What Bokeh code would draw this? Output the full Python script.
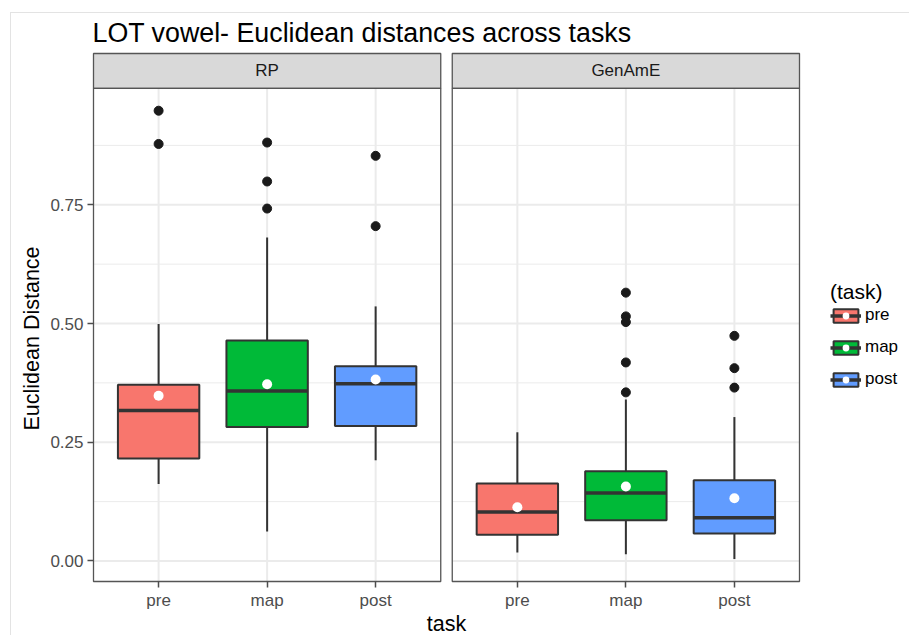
from bokeh.plotting import figure
from bokeh.models import (Range1d, FixedTicker, NumeralTickFormatter, Title,
                          Legend, LegendItem, ColumnDataSource)
from bokeh.core.properties import value
from bokeh.embed import file_html
from bokeh.resources import INLINE

# ---------------- data ----------------
panels = ["RP", "GenAmE"]
tasks = ["pre", "map", "post"]
task_colors = ["#F8766D", "#00BA38", "#619CFF"]

rp_lower = [0.162, 0.062, 0.212]
rp_q1 = [0.216, 0.282, 0.284]
rp_median = [0.317, 0.358, 0.373]
rp_q3 = [0.371, 0.464, 0.410]
rp_upper = [0.499, 0.681, 0.536]
rp_mean = [0.348, 0.372, 0.382]
rp_outliers = [[0.948, 0.878], [0.881, 0.799, 0.742], [0.853, 0.705]]

gen_lower = [0.018, 0.014, 0.004]
gen_q1 = [0.055, 0.086, 0.058]
gen_median = [0.103, 0.143, 0.091]
gen_q3 = [0.163, 0.189, 0.170]
gen_upper = [0.271, 0.340, 0.303]
gen_mean = [0.113, 0.157, 0.132]
gen_outliers = [[], [0.565, 0.515, 0.503, 0.418, 0.355], [0.474, 0.406, 0.365]]

y_major = [0.0, 0.25, 0.50, 0.75]
y_minor = [0.125, 0.375, 0.625, 0.875]

stats = {
    "RP": dict(lower=rp_lower, q1=rp_q1, median=rp_median, q3=rp_q3,
               upper=rp_upper, mean=rp_mean, out=rp_outliers),
    "GenAmE": dict(lower=gen_lower, q1=gen_q1, median=gen_median, q3=gen_q3,
                   upper=gen_upper, mean=gen_mean, out=gen_outliers),
}

# ---------------- layout constants (pixels) ----------------
FONT = "Liberation Sans"
BORDER_L, BORDER_T, BORDER_R = 91, 51, 108
FRAME_W, FRAME_H = 710, 532
PAD = 2.0          # frame padding around panels
GAP_PX = 11.5      # space between facet panels
STRIP_PX = 34.8    # facet strip height
BOX_W = 0.75

# discrete x scale: categories 1..n expanded by 0.6 on each side
n = len(tasks)
PANEL_UNITS = (n - 1) + 2 * 0.6
px_x = (FRAME_W - 2 * PAD - GAP_PX) / (2 * PANEL_UNITS)
G = GAP_PX / px_x

# continuous y scale expanded by 5%
all_vals = []
for pn in panels:
    s = stats[pn]
    all_vals += s["lower"] + s["upper"] + [v for o in s["out"] for v in o]
ymin_d, ymax_d = min(all_vals), max(all_vals)
span = ymax_d - ymin_d
ymin, ymax = ymin_d - 0.05 * span, ymax_d + 0.05 * span
px_y = (FRAME_H - 2 * PAD - STRIP_PX) / (ymax - ymin)
strip_top = ymax + STRIP_PX / px_y

def panel_left(k):
    return 1 - 0.6 + k * (PANEL_UNITS + G)

def panel_right(k):
    return panel_left(k) + PANEL_UNITS

def xpos(k, i):
    return k * (PANEL_UNITS + G) + i + 1

x_range = Range1d(panel_left(0) - PAD / px_x, panel_right(1) + PAD / px_x)
y_range = Range1d(ymin - PAD / px_y, strip_top + PAD / px_y)

p = figure(frame_width=FRAME_W, frame_height=FRAME_H, x_range=x_range, y_range=y_range,
           output_backend="svg", toolbar_location=None,
           min_border_left=BORDER_L, min_border_top=BORDER_T, min_border_right=BORDER_R,
           min_border_bottom=5, background_fill_color="white", border_fill_color="white")
p.outline_line_color = None
p.xgrid.visible = False
p.ygrid.visible = False

# title
p.title.text = "LOT vowel- Euclidean distances across tasks"
p.title.text_font = FONT
p.title.text_font_size = "26.8px"
p.title.text_font_style = "normal"
p.title.text_color = "black"
p.title.align = "left"
p.title.offset = 1
p.title.standoff = 8

# ---------------- grid lines (drawn per panel) ----------------
gx0, gx1, gy0, gy1 = [], [], [], []
for k in range(len(panels)):
    for yv in y_major:
        gx0.append(panel_left(k)); gx1.append(panel_right(k)); gy0.append(yv); gy1.append(yv)
for k in range(len(panels)):
    for i in range(n):
        gx0.append(xpos(k, i)); gx1.append(xpos(k, i)); gy0.append(ymin); gy1.append(ymax)
mx0, mx1, my = [], [], []
for k in range(len(panels)):
    for yv in y_minor:
        mx0.append(panel_left(k)); mx1.append(panel_right(k)); my.append(yv)
p.segment(x0=mx0, x1=mx1, y0=my, y1=my, line_color="#EBEBEB", line_width=1)
p.segment(x0=gx0, x1=gx1, y0=gy0, y1=gy1, line_color="#EBEBEB", line_width=2)

# ---------------- boxplots ----------------
legend_items = []
for i, t in enumerate(tasks):
    d = dict(x=[], lower=[], q1=[], median=[], q3=[], upper=[], mean=[], left=[], right=[])
    ox, oy = [], []
    for k, pn in enumerate(panels):
        s = stats[pn]
        xc = xpos(k, i)
        d["x"].append(xc)
        d["left"].append(xc - BOX_W / 2)
        d["right"].append(xc + BOX_W / 2)
        for key in ["lower", "q1", "median", "q3", "upper", "mean"]:
            d[key].append(s[key][i])
        for v in s["out"][i]:
            ox.append(xc); oy.append(v)
    src = ColumnDataSource(d)
    p.segment(x0="x", x1="x", y0="q3", y1="upper", source=src, line_color="#333333", line_width=2)
    p.segment(x0="x", x1="x", y0="lower", y1="q1", source=src, line_color="#333333", line_width=2)
    box = p.vbar(x="x", width=BOX_W, bottom="q1", top="q3", source=src,
                 fill_color=task_colors[i], line_color="#333333", line_width=2)
    med = p.segment(x0="left", x1="right", y0="median", y1="median", source=src,
                    line_color="#333333", line_width=3.5)
    p.scatter(x=ox, y=oy, size=9, color="#1A1A1A")
    mean_r = p.scatter(x="x", y="mean", source=src, size=10, fill_color="white", line_color=None)
    legend_items.append(LegendItem(label=t, renderers=[box, med, mean_r]))

# ---------------- strips and panel borders ----------------
sl = [panel_left(k) for k in range(len(panels))]
sr = [panel_right(k) for k in range(len(panels))]
p.quad(left=sl, right=sr, bottom=[ymax] * len(panels), top=[strip_top] * len(panels),
       fill_color="#D9D9D9", line_color="#555555", line_width=1.3)
p.quad(left=sl, right=sr, bottom=[ymin] * len(panels), top=[ymax] * len(panels),
       fill_color=None, line_color="#555555", line_width=1.3)
p.text(x=[(a + b) / 2 for a, b in zip(sl, sr)], y=[(ymax + strip_top) / 2] * len(panels),
       text=panels, text_align="center", text_baseline="middle",
       text_font=value(FONT), text_font_size="17px", text_color="#1A1A1A")

# ---------------- axes ----------------
yax = p.yaxis[0]
yax.ticker = FixedTicker(ticks=y_major, minor_ticks=[])
yax.formatter = NumeralTickFormatter(format="0.00")
yax.axis_line_color = None
yax.major_tick_line_color = "#4D4D4D"
yax.major_tick_line_width = 1.5
yax.major_tick_in = int(PAD)
yax.major_tick_out = 4
yax.minor_tick_line_color = None
yax.major_label_text_font = FONT
yax.major_label_text_font_size = "17px"
yax.major_label_text_color = "#4D4D4D"
yax.major_label_standoff = 4

xticks = [xpos(k, i) for k in range(len(panels)) for i in range(n)]
xlabels = {xpos(k, i): tasks[i] for k in range(len(panels)) for i in range(n)}
xax = p.xaxis[0]
xax.ticker = FixedTicker(ticks=xticks, minor_ticks=[])
xax.major_label_overrides = xlabels
xax.axis_line_color = None
xax.major_tick_line_color = "#4D4D4D"
xax.major_tick_line_width = 1.5
xax.major_tick_in = int(PAD)
xax.major_tick_out = 4
xax.minor_tick_line_color = None
xax.major_label_text_font = FONT
xax.major_label_text_font_size = "17px"
xax.major_label_text_color = "#4D4D4D"
xax.major_label_standoff = 3
xax.axis_label = "task"
xax.axis_label_text_font = FONT
xax.axis_label_text_font_size = "21.5px"
xax.axis_label_text_font_style = "normal"
xax.axis_label_text_color = "black"
xax.axis_label_standoff = -1

ytitle = Title(text="Euclidean Distance", align="left", offset=153, standoff=8,
               text_font=FONT, text_font_size="21.5px", text_font_style="normal",
               text_color="black")
p.add_layout(ytitle, "left")

# ---------------- legend ----------------
legend = Legend(items=legend_items, location=(29, 194), title="(task)",
                title_text_font=FONT, title_text_font_size="21px", title_text_font_style="normal",
                title_text_color="black", title_standoff=1,
                label_text_font=FONT, label_text_font_size="17px", label_text_color="black",
                glyph_width=31, glyph_height=17, label_height=17, label_standoff=4,
                spacing=12, padding=0, margin=0, border_line_color=None,
                background_fill_alpha=0)
p.add_layout(legend, "right")

html = file_html(p, INLINE, title="LOT vowel")
css = ("<style>html,body{overflow:hidden;}"
       "body::after{content:'';position:fixed;left:10px;top:12px;right:-10px;bottom:-10px;"
       "border:1px solid #E3E3E3;pointer-events:none;z-index:1000;}</style>")
html = html.replace("</head>", css + "</head>")
open("out.html", "w").write(html)
